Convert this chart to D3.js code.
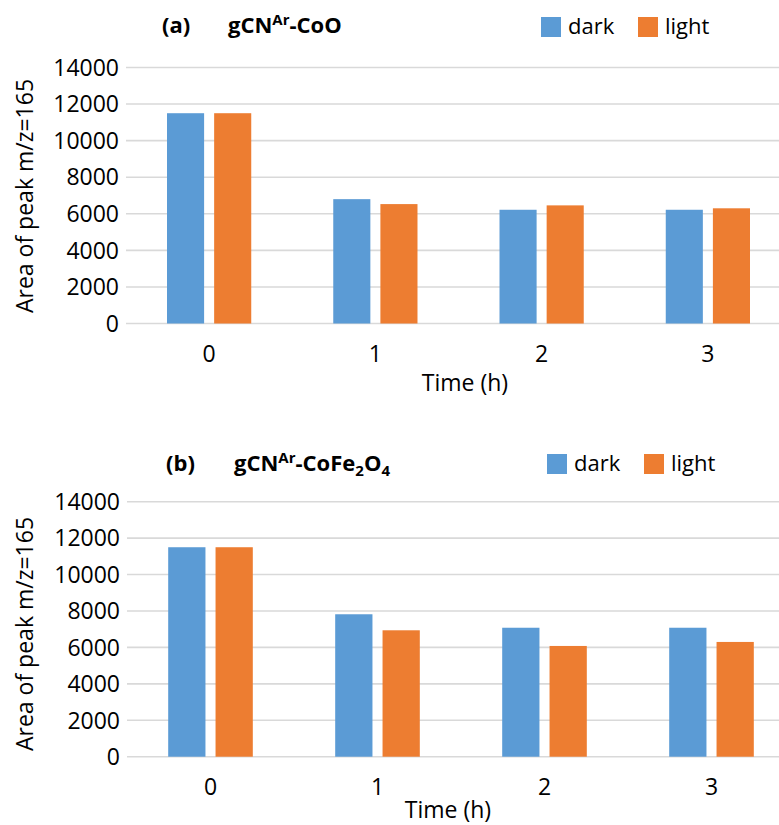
<!DOCTYPE html>
<html><head><meta charset="utf-8">
<script src="https://cdn.jsdelivr.net/npm/d3@7"></script>
<style>body{margin:0;background:#fff}svg{display:block}text{font-family:"Open Sans",sans-serif;fill:#000}</style>
</head><body>
<script>
const categories = ["0","1","2","3"];
const seriesNames = ["dark","light"];
const darkA = [11500, 6800, 6220, 6220];
const lightA = [11500, 6530, 6460, 6300];
const darkB = [11500, 7820, 7080, 7080];
const lightB = [11500, 6940, 6080, 6300];
const yTicks = [0,2000,4000,6000,8000,10000,12000,14000];
const colors = ["#5b9bd5","#ed7d31"];

const W=779,H=825;
const svg=d3.select("body").append("svg").attr("width",W).attr("height",H);

function panel(cfg){
  const g=svg.append("g");
  const x=d3.scaleBand().domain(categories).range([cfg.x0,cfg.x1]).paddingInner(0).paddingOuter(0);
  const y=d3.scaleLinear().domain([0,14000]).range([cfg.y0,cfg.yTop]);
  const xs=d3.scaleBand().domain(seriesNames).range([0,x.bandwidth()]).paddingInner(0.213).paddingOuter(0.87);
  g.append("g").selectAll("line").data(yTicks).join("line")
    .attr("x1",cfg.x0).attr("x2",cfg.x1).attr("y1",d=>y(d)).attr("y2",d=>y(d))
    .attr("stroke","#d9d9d9").attr("stroke-width",1.6);
  g.append("g").selectAll("text").data(yTicks).join("text")
    .attr("x",cfg.x0-7).attr("y",d=>y(d)).attr("dy","0.36em").attr("text-anchor","end")
    .attr("font-size",23).text(d=>d);
  const data=categories.map((c,i)=>({c,vals:[cfg.dark[i],cfg.light[i]]}));
  const grp=g.append("g").selectAll("g").data(data).join("g").attr("transform",d=>`translate(${x(d.c)},0)`);
  grp.selectAll("rect").data(d=>d.vals.map((v,j)=>({v,s:seriesNames[j],j}))).join("rect")
    .attr("x",d=>xs(d.s)).attr("width",xs.bandwidth())
    .attr("y",d=>y(d.v)).attr("height",d=>y(0)-y(d.v)).attr("fill",d=>colors[d.j]);
  g.append("g").selectAll("text").data(categories).join("text")
    .attr("x",d=>x(d)+x.bandwidth()/2).attr("y",cfg.y0+38).attr("text-anchor","middle")
    .attr("font-size",23).text(d=>d);
  g.append("text").attr("x",cfg.tlx).attr("y",cfg.tly).attr("text-anchor","middle")
    .attr("font-size",23).text("Time (h)");
  g.append("text").attr("transform",`translate(${cfg.ylx},${cfg.yly}) rotate(-90)`)
    .attr("text-anchor","middle").attr("font-size",23).text("Area of peak m/z=165");
  const t=g.append("text").attr("x",cfg.tx).attr("y",cfg.ty).attr("font-size",22).attr("font-weight","bold");
  t.append("tspan").text("(" + cfg.letter + ")");
  const t2=g.append("text").attr("x",cfg.tx2).attr("y",cfg.ty).attr("font-size",22).attr("font-weight","bold");
  t2.append("tspan").text("gCN");
  t2.append("tspan").attr("font-size",15).attr("dy",-8).text("Ar");
  t2.append("tspan").attr("dy",8).text(cfg.formula[0]);
  for(let k=1;k<cfg.formula.length;k+=2){
    t2.append("tspan").attr("font-size",15).attr("dy",5).text(cfg.formula[k]);
    t2.append("tspan").attr("dy",-5).text(cfg.formula[k+1]);
  }
  seriesNames.forEach((s,i)=>{
    const lx=cfg.lx+i*97;
    g.append("rect").attr("x",lx).attr("y",cfg.ly).attr("width",20).attr("height",20).attr("fill",colors[i]);
    g.append("text").attr("x",lx+27).attr("y",cfg.ly+17).attr("font-size",22).text(s);
  });
}

panel({x0:126,x1:791,y0:323.5,yTop:67.5,dark:darkA,light:lightA,ylx:33,yly:196,
  tlx:465,tly:391,
  letter:"a",tx:162,tx2:228,ty:33,formula:["-CoO"],lx:541,ly:17});
panel({x0:127,x1:795,y0:756.7,yTop:501.7,dark:darkB,light:lightB,ylx:33,yly:634,
  tlx:448,tly:818,
  letter:"b",tx:166,tx2:234,ty:471,formula:["-CoFe","2","O","4",""],lx:547,ly:454});
</script>
</body></html>
